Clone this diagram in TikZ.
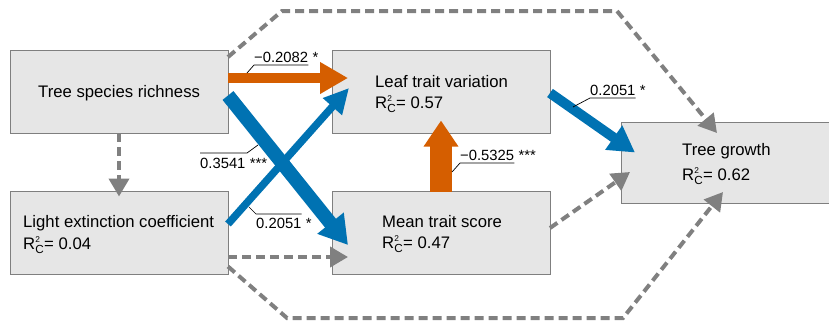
\documentclass[tikz,border=0pt]{standalone}
\usepackage{fontspec}
\setmainfont{Liberation Sans}
\usepackage{amsmath}
\usetikzlibrary{arrows.meta,calc}
\definecolor{boxfill}{HTML}{E6E6E6}
\definecolor{boxline}{HTML}{7F7F7F}
\definecolor{myorange}{HTML}{D55E00}
\definecolor{myblue}{HTML}{0072B2}
\definecolor{dashgray}{HTML}{808080}
\newcommand{\RcTwo}{R$^{\scriptscriptstyle\text{2}}_{\text{C}}$}
\begin{document}
\begin{tikzpicture}[x=1pt,y=-1pt,
  box/.style={draw=boxline,fill=boxfill,line width=1pt,inner sep=0pt,outer sep=0pt,minimum width=218pt,minimum height=83pt},
  btext/.style={font=\fontsize{16.7}{20}\selectfont,anchor=base west,inner sep=0pt},
  lab/.style={font=\fontsize{14.8}{17}\selectfont,anchor=base west,inner sep=0pt},
  leader/.style={draw=black,line width=0.7pt},
  dasharrow/.style={draw=dashgray,line width=4pt,dash pattern=on 9pt off 5pt,line join=miter,-{Triangle[width=20pt,length=18pt]}},
  orangearrow/.style={draw=myorange,-{Triangle[width=30pt,length=28pt]}},
  bluearrow/.style={draw=myblue}
]
\useasboundingbox (0,0) rectangle (829,322);
\clip (0,0) rectangle (829,322);

% boxes
\node[box] (tsr) at (119,91.5) {};
\node[box] (ltv) at (441,92) {};
\node[box] (lec) at (119,233) {};
\node[box] (mts) at (441,233) {};
\node[box,minimum width=219pt,minimum height=81pt] (tg) at (730.5,162.5) {};

% box texts
\node[btext] (tsrT) at (38,97) {Tree species richness};
\node[btext] (ltvT) at (375,87) {Leaf trait variation};
\node[btext] (ltvR) at (375,108) {\RcTwo= 0.57};
\node[btext] (lecT) at (23,227) {Light extinction coefficient};
\node[btext] (lecR) at (23,249) {\RcTwo= 0.04};
\node[btext] (mtsT) at (382,227) {Mean trait score};
\node[btext] (mtsR) at (382,248) {\RcTwo= 0.47};
\node[btext] (tgT) at (682,155) {Tree growth};
\node[btext] (tgR) at (682,180) {\RcTwo= 0.62};

% dashed connectors
\coordinate (topA) at (282,11);
\coordinate (topB) at (617,11);
\coordinate (botA) at (287,318);
\coordinate (botB) at (623,318);
\draw[dasharrow] ($(tsr.north east)+(0,7)$) -- (topA) -- (topB) -- (717,133);
\draw[dasharrow] ($(lec.south east)+(0,-8)$) -- (botA) -- (botB) -- (723,192);
\draw[dasharrow] (tsr.south) -- ($(lec.north)+(0,5)$);
\draw[dasharrow] ($(lec.east)+(0,24)$) -- ($(mts.west)+(16,24)$);
\draw[dasharrow] ($(mts.east)+(0,-5)$) -- (630,172);

% solid connectors
\draw[orangearrow,line width=10pt] ($(tsr.east)+(0,-13.5)$) -- ($(ltv.west)+(16,-14)$);
\draw[bluearrow,line width=14pt,-{Triangle[width=32pt,length=28pt]}] ($(tsr.east)+(0,4)$) -- ($(mts.west)+(16,12)$);
\draw[bluearrow,line width=7.5pt,-{Triangle[width=24pt,length=25pt]}] ($(lec.east)+(0,-9)$) -- ($(ltv.west)+(17,-4)$);
\draw[bluearrow,line width=10pt,-{Triangle[width=28pt,length=26pt]}] ($(ltv.east)+(0,1)$) -- ($(tg.west)+(14,-10)$);
\draw[draw=myorange,line width=22pt,-{Triangle[width=33pt,length=26pt]}] (mts.north) -- ($(ltv.south)+(0,-13)$);

% labels
\node[lab] (l1) at (254,62) {−0.2082};
\node[lab] (l1s) at ($(l1.base east)+(4,0)$) {*};
\draw[leader] ($(l1.base east)+(0,3)$) -- ($(l1.base west)+(0,3)$) -- (247,73);

\node[lab] (l2) at (200,168) {0.3541};
\node[lab] (l2s) at ($(l2.base east)+(4,0)$) {***};
\draw[leader] ($(l2.base west)+(0,-15)$) -- ($(l2.base west)+(47,-15)$) -- (258,145);

\node[lab] (l3) at (256,228) {0.2051};
\node[lab] (l3s) at ($(l3.base east)+(4,0)$) {*};
\draw[leader] ($(l3.base east)+(0,-14)$) -- ($(l3.base west)+(0,-14)$) -- (249,207);

\node[lab] (l4) at (460,160) {−0.5325};
\node[lab] (l4s) at ($(l4.base east)+(4,0)$) {***};
\draw[leader] ($(l4.base east)+(0,3)$) -- ($(l4.base west)+(0,3)$) -- (452,172);

\node[lab] (l5) at (590,95) {0.2051};
\node[lab] (l5s) at ($(l5.base east)+(4,0)$) {*};
\draw[leader] ($(l5.base east)+(0,3)$) -- ($(l5.base west)+(0,3)$) -- (573,107);
\end{tikzpicture}
\end{document}
